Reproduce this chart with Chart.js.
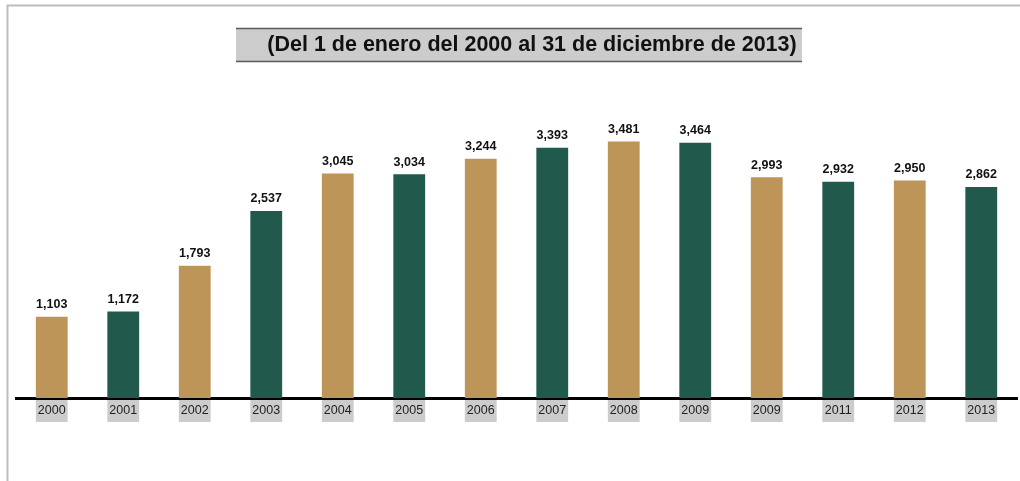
<!DOCTYPE html>
<html>
<head>
<meta charset="utf-8">
<script src="https://cdn.jsdelivr.net/npm/chart.js@4"></script>
<style>
  html, body { margin: 0; padding: 0; background: #fff; }
  #wrap { width: 1020px; height: 481px; position: relative; }
</style>
</head>
<body>
<div id="wrap"><canvas id="myChart"></canvas></div>
<script>
const years = ['2000', '2001', '2002', '2003', '2004', '2005', '2006', '2007', '2008', '2009', '2009', '2011', '2012', '2013'];
const totals = [1103, 1172, 1793, 2537, 3045, 3034, 3244, 3393, 3481, 3464, 2993, 2932, 2950, 2862];
const barColors = ['#BE9558', '#215A4C', '#BE9558', '#215A4C', '#BE9558', '#215A4C', '#BE9558',
    '#215A4C', '#BE9558', '#215A4C', '#BE9558', '#215A4C', '#BE9558', '#215A4C'];
const titleText = '(Del 1 de enero del 2000 al 31 de diciembre de 2013)';

const FONT = '"Liberation Sans", Arial, sans-serif';

const decorations = {
    id: 'decorations',
    beforeDraw(chart) {
        const ctx = chart.ctx;
        ctx.save();
        // outer frame (top + left)
        ctx.strokeStyle = '#bdbdbd';
        ctx.lineWidth = 2;
        ctx.beginPath();
        ctx.moveTo(7.5, 481);
        ctx.lineTo(7.5, 5.5);
        ctx.lineTo(1020, 5.5);
        ctx.stroke();

        // title box
        ctx.fillStyle = '#cccccc';
        ctx.fillRect(236, 28, 566, 34);
        ctx.strokeStyle = '#5a5a5a';
        ctx.lineWidth = 1.5;
        ctx.beginPath();
        ctx.moveTo(236, 28.5); ctx.lineTo(802, 28.5);
        ctx.moveTo(236, 61.5); ctx.lineTo(802, 61.5);
        ctx.stroke();
        ctx.fillStyle = '#111';
        ctx.font = 'bold 21.5px ' + FONT;
        ctx.textAlign = 'center';
        ctx.textBaseline = 'middle';
        ctx.fillText(titleText, 532, 45);

        // gray boxes behind year labels
        const meta = chart.getDatasetMeta(0);
        ctx.fillStyle = '#cccccc';
        meta.data.forEach(bar => {
            const w = bar.width;
            ctx.fillRect(bar.x - w / 2, 400, w, 22);
        });
        ctx.restore();
    },
    afterDatasetsDraw(chart) {
        const ctx = chart.ctx;
        const meta = chart.getDatasetMeta(0);
        ctx.save();
        ctx.fillStyle = '#111';
        ctx.font = 'bold 12.5px ' + FONT;
        ctx.textAlign = 'center';
        ctx.textBaseline = 'middle';
        meta.data.forEach((bar, i) => {
            ctx.fillText(totals[i].toLocaleString('en-US'), bar.x, bar.y - 12);
        });
        ctx.restore();
    }
};

new Chart(document.getElementById('myChart'), {
    type: 'bar',
    data: {
        labels: years,
        datasets: [{
            data: totals,
            backgroundColor: barColors,
            borderWidth: 0,
            barPercentage: 0.445,
            categoryPercentage: 1
        }]
    },
    options: {
        responsive: true,
        maintainAspectRatio: false,
        animation: false,
        layout: {
            padding: { left: 16, right: 3, top: 81, bottom: 0 }
        },
        plugins: {
            legend: { display: false },
            tooltip: { enabled: false }
        },
        scales: {
            x: {
                grid: { display: false, drawTicks: false },
                border: { display: true, color: '#000', width: 3 },
                ticks: {
                    color: '#222',
                    padding: 5,
                    font: { family: FONT, size: 12.5 },
                    maxRotation: 0,
                    autoSkip: false
                },
                afterFit(scale) { scale.height = 83; }
            },
            y: {
                display: false,
                min: 0,
                max: 4300
            }
        }
    },
    plugins: [decorations]
});
</script>
</body>
</html>
